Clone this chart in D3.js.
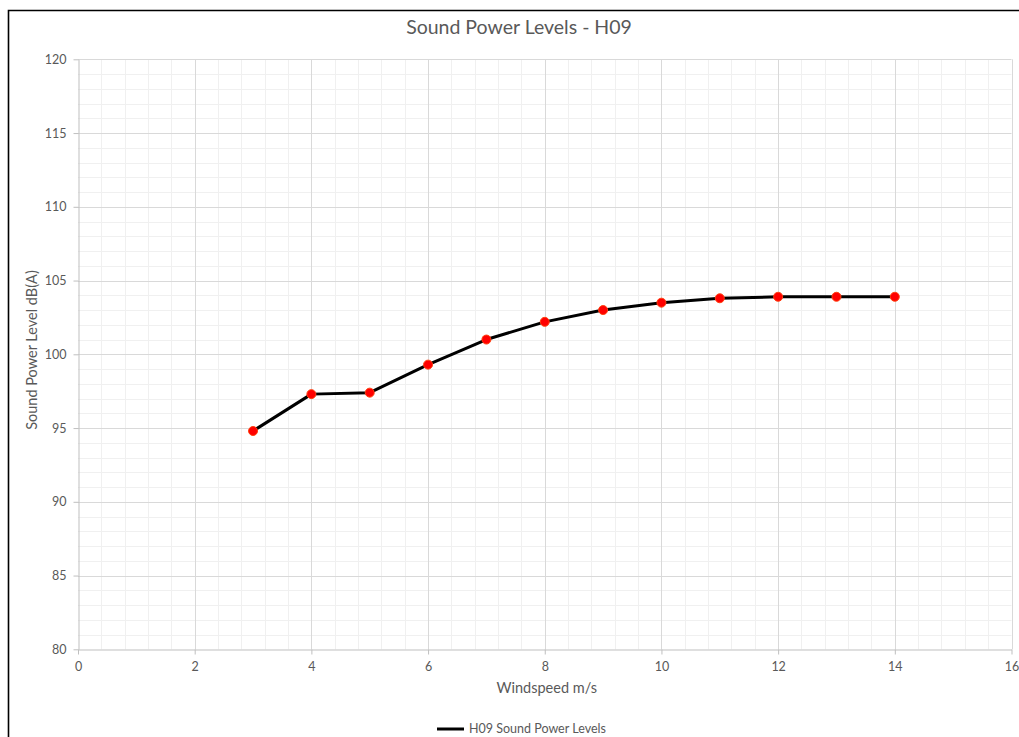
<!DOCTYPE html>
<html>
<head>
<meta charset="utf-8">
<script src="https://cdn.jsdelivr.net/npm/d3@7"></script>
<style>
  html, body { margin: 0; padding: 0; background: #fff; }
  svg { display: block; }
  text { font-family: Lato, "Open Sans", "Liberation Sans", sans-serif; fill: #595959; }
</style>
</head>
<body>
<svg id="chart" width="1019" height="737"></svg>
<script>
// Sound power level curve for turbine H09
const windspeed = [3, 4, 5, 6, 7, 8, 9, 10, 11, 12, 13, 14];
const soundPower = [94.8, 97.3, 97.4, 99.3, 101.0, 102.2, 103.0, 103.5, 103.8, 103.9, 103.9, 103.9];
const xTicks = [0, 2, 4, 6, 8, 10, 12, 14, 16];
const yTicks = [80, 85, 90, 95, 100, 105, 110, 115, 120];
const titleText = "Sound Power Levels - H09";
const xTitle = "Windspeed m/s";
const yTitle = "Sound Power Level dB(A)";
const seriesName = "H09 Sound Power Levels";

const svg = d3.select("#chart");
const W = 1019, H = 737;
const plot = { left: 78, right: 1011.5, top: 59.3, bottom: 649.3 };

const x = d3.scaleLinear().domain([0, 16]).range([plot.left, plot.right]);
const y = d3.scaleLinear().domain([80, 120]).range([plot.bottom, plot.top]);

svg.append("rect").attr("width", W).attr("height", H).attr("fill", "#fff");

// chart frame (only left and top edges fall inside the view)
svg.append("path")
  .attr("d", `M8.5,${H + 5} V10.5 H${W + 5}`)
  .attr("fill", "none").attr("stroke", "#000").attr("stroke-width", 1.6);

// minor gridlines
const g = svg.append("g");
const xMinor = d3.range(0, 16.001, 0.4).filter(v => Math.abs(v / 2 - Math.round(v / 2)) > 1e-6);
const yMinor = d3.range(80, 120.001, 1).filter(v => v % 5 !== 0);
g.selectAll(".xm").data(xMinor).join("line")
  .attr("x1", d => Math.round(x(d)) + 0.5).attr("x2", d => Math.round(x(d)) + 0.5)
  .attr("y1", plot.top).attr("y2", plot.bottom)
  .attr("stroke", "#f0f0f0").attr("stroke-width", 1);
g.selectAll(".ym").data(yMinor).join("line")
  .attr("y1", d => Math.round(y(d)) + 0.5).attr("y2", d => Math.round(y(d)) + 0.5)
  .attr("x1", plot.left).attr("x2", plot.right)
  .attr("stroke", "#f0f0f0").attr("stroke-width", 1);

// major gridlines
g.selectAll(".xM").data(xTicks.slice(1)).join("line")
  .attr("x1", d => Math.round(x(d)) + 0.5).attr("x2", d => Math.round(x(d)) + 0.5)
  .attr("y1", plot.top).attr("y2", plot.bottom)
  .attr("stroke", "#d9d9d9").attr("stroke-width", 1);
g.selectAll(".yM").data(yTicks.slice(1)).join("line")
  .attr("y1", d => Math.round(y(d)) + 0.5).attr("y2", d => Math.round(y(d)) + 0.5)
  .attr("x1", plot.left).attr("x2", plot.right)
  .attr("stroke", "#d9d9d9").attr("stroke-width", 1);

// axes
const xAxis = svg.append("g")
  .attr("transform", `translate(0,${Math.round(plot.bottom) + 0.5})`)
  .call(d3.axisBottom(x).tickValues(xTicks).tickSize(5).tickPadding(8).tickSizeOuter(0));
const yAxis = svg.append("g")
  .attr("transform", `translate(${Math.round(plot.left) + 0.5},0)`)
  .call(d3.axisLeft(y).tickValues(yTicks).tickSize(5).tickPadding(7).tickSizeOuter(0));
[xAxis, yAxis].forEach(a => {
  a.select(".domain").attr("stroke", "#bfbfbf");
  a.selectAll(".tick line").attr("stroke", "#bfbfbf");
  a.selectAll(".tick text").attr("fill", "#595959")
    .style("font-size", "12.5px").style("font-family", "Lato, 'Open Sans', sans-serif");
});

// series line and markers
const line = d3.line().x((d, i) => x(windspeed[i])).y(d => y(d));
svg.append("path").datum(soundPower)
  .attr("d", line).attr("fill", "none")
  .attr("stroke", "#000").attr("stroke-width", 3).attr("stroke-linejoin", "round");
svg.selectAll(".pt").data(soundPower).join("circle")
  .attr("cx", (d, i) => x(windspeed[i])).attr("cy", d => y(d))
  .attr("r", 4.5).attr("fill", "#ff0000").attr("stroke", "#ff4010").attr("stroke-width", 1);

// titles
svg.append("text").attr("x", 519).attr("y", 34).attr("text-anchor", "middle")
  .style("font-size", "19.5px").text(titleText);
svg.append("text").attr("x", (plot.left + plot.right) / 2 + 2).attr("y", 693).attr("text-anchor", "middle")
  .style("font-size", "14.5px").text(xTitle);
svg.append("text").attr("transform", `translate(37,350) rotate(-90)`)
  .attr("text-anchor", "middle").style("font-size", "14.5px").text(yTitle);

// legend
svg.append("line").attr("x1", 437).attr("x2", 464).attr("y1", 729).attr("y2", 729)
  .attr("stroke", "#000").attr("stroke-width", 3);
svg.append("text").attr("x", 469).attr("y", 733).style("font-size", "12.5px").text(seriesName);
</script>
</body>
</html>
